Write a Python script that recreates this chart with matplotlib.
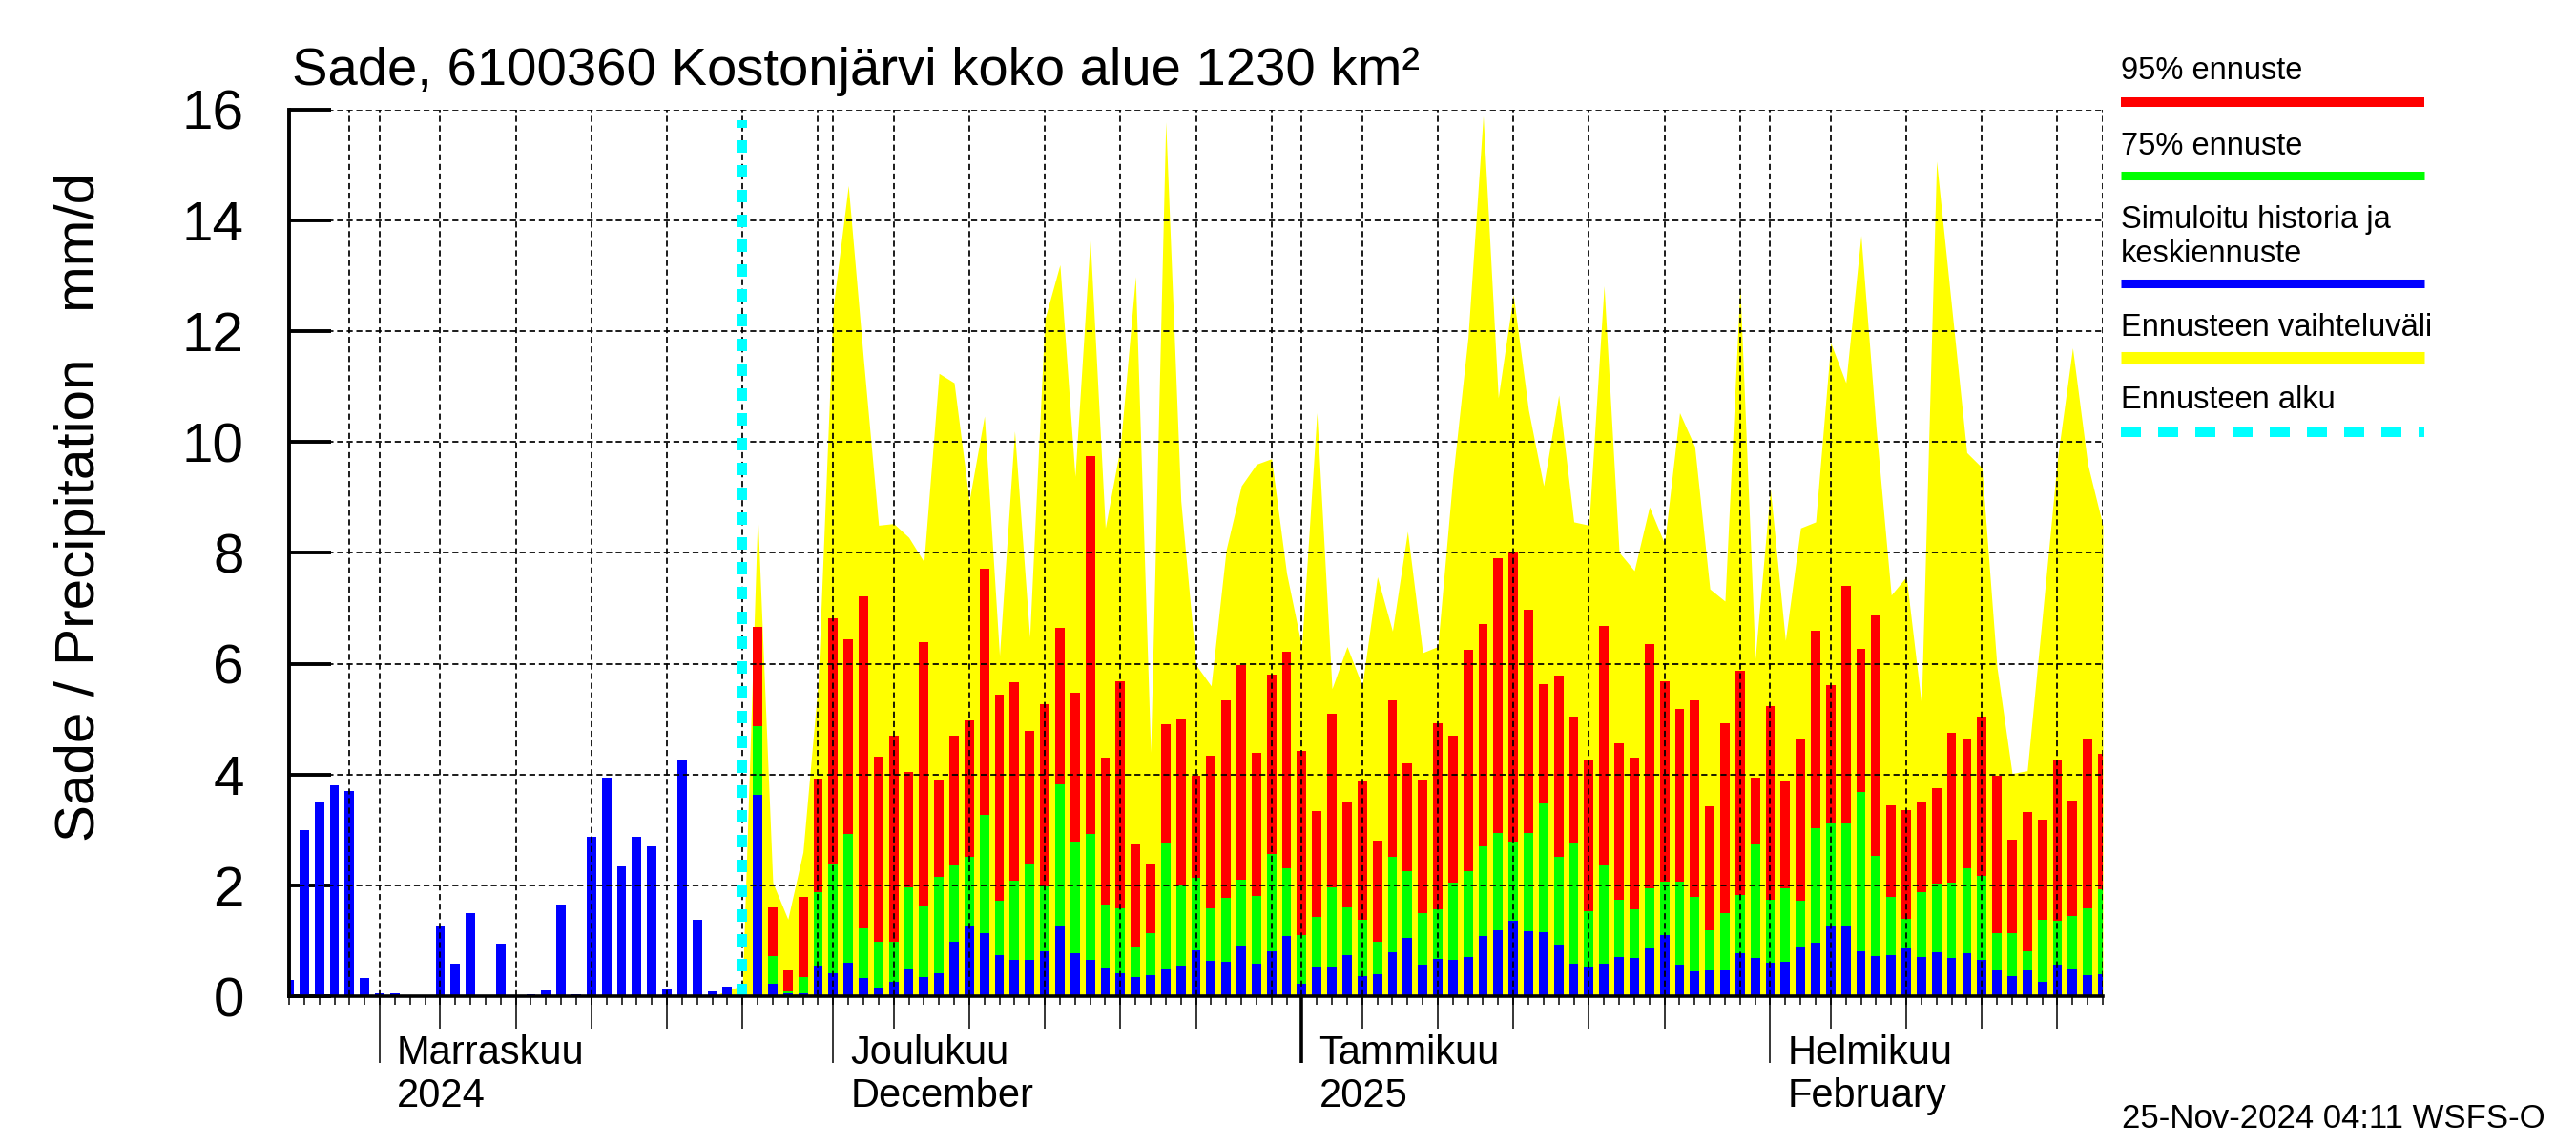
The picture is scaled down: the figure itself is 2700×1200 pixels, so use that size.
import matplotlib
matplotlib.use('Agg')
import matplotlib.pyplot as plt
import matplotlib.dates as mdates
from matplotlib.lines import Line2D
import datetime as dt

plt.rcParams['font.family'] = ['Liberation Sans', 'DejaVu Sans']

# ---------------- data ----------------
title = "Sade, 6100360 Kostonjärvi koko alue 1230 km²"
ylabel = "Sade / Precipitation   mm/d"
footer = "25-Nov-2024 04:11 WSFS-O"

hist_start = dt.date(2024, 10, 26)
hist_values = [0.29, 2.99, 3.51, 3.80, 3.70, 0.32,
               0.05, 0.05, 0.0, 0.0, 1.26, 0.59, 1.50, 0.0, 0.94, 0.0,
               0.03, 0.10, 1.66, 0.03, 2.87, 3.95, 2.34, 2.87, 2.70, 0.13,
               4.25, 1.38, 0.08, 0.18, 0.06]

fc_start = dt.date(2024, 11, 26)
fc_blue = [3.64, 0.22, 0.05, 0.05, 0.55,
           0.42, 0.61, 0.32, 0.16, 0.26, 0.48, 0.35, 0.42, 0.98, 1.25, 1.14, 0.74, 0.66,
           0.65, 0.81, 1.25, 0.78, 0.65, 0.50, 0.42, 0.34, 0.38, 0.48, 0.55, 0.83, 0.63,
           0.62, 0.92, 0.59, 0.81, 1.09,
           0.22, 0.53, 0.53, 0.74, 0.37, 0.40, 0.80, 1.05, 0.56, 0.68, 0.66, 0.71, 1.09,
           1.19, 1.36, 1.17, 1.16, 0.93, 0.59, 0.54, 0.59, 0.71, 0.69, 0.86, 1.11,
           0.57, 0.44, 0.46, 0.46, 0.78, 0.69,
           0.61, 0.62, 0.89, 0.97, 1.28, 1.25, 0.81, 0.73, 0.74, 0.86, 0.71, 0.80, 0.69,
           0.78, 0.65, 0.46, 0.37, 0.46, 0.26, 0.56, 0.49, 0.38, 0.40]
fc_green = [4.88, 0.72, 0.08, 0.35, 1.88,
            2.40, 2.93, 1.23, 0.98, 0.98, 1.97, 1.62, 2.16, 2.36, 2.52, 3.28, 1.73, 2.08,
            2.40, 1.98, 3.83, 2.79, 2.93, 1.66, 1.59, 0.88, 1.14, 2.76, 2.01, 2.14, 1.59,
            1.77, 2.10, 1.81, 2.56, 2.31,
            1.11, 1.43, 1.96, 1.61, 1.37, 0.98, 2.52, 2.26, 1.49, 1.56, 2.05, 2.25, 2.71,
            2.95, 2.79, 2.94, 3.47, 2.52, 2.77, 1.53, 2.36, 1.74, 1.56, 1.95, 2.07,
            2.07, 1.79, 1.19, 1.50, 1.83, 2.74,
            1.74, 1.95, 1.73, 3.03, 3.12, 3.12, 3.69, 2.53, 1.79, 1.40, 1.88, 2.04, 2.05,
            2.31, 2.17, 1.13, 1.13, 0.81, 1.38, 1.36, 1.44, 1.59, 1.93]
fc_red = [6.66, 1.61, 0.46, 1.79, 3.92,
          6.82, 6.44, 7.21, 4.33, 4.70, 4.04, 6.39, 3.91, 4.70, 4.98, 7.71, 5.45, 5.67,
          4.79, 5.27, 6.65, 5.48, 9.74, 4.30, 5.69, 2.74, 2.40, 4.91, 5.00, 3.98, 4.34,
          5.33, 5.98, 4.39, 5.81, 6.21,
          4.42, 3.34, 5.10, 3.51, 3.88, 2.80, 5.34, 4.21, 3.91, 4.93, 4.70, 6.25, 6.72,
          7.90, 8.02, 6.97, 5.63, 5.79, 5.05, 4.25, 6.68, 4.57, 4.31, 6.36, 5.68,
          5.18, 5.34, 3.42, 4.93, 5.88, 3.95,
          5.24, 3.87, 4.63, 6.60, 5.61, 7.41, 6.27, 6.87, 3.44, 3.36, 3.49, 3.76, 4.76,
          4.63, 5.05, 3.97, 2.83, 3.32, 3.19, 4.27, 3.53, 4.63, 4.37]

range_start = dt.date(2024, 11, 23)
range_max = [0.0, 0.1, 0.2,
             8.70, 2.05, 1.39, 2.60, 5.66,
             12.44, 14.63, 11.5, 8.50, 8.53, 8.28, 7.84, 11.24, 11.07, 8.94, 10.47, 6.15,
             10.2, 6.48, 12.22, 13.2, 9.38, 13.67, 8.45, 9.92, 12.99, 4.40, 15.78, 8.94,
             5.98, 5.60,
             8.06, 9.21, 9.60, 9.70, 7.63,
             6.31, 10.53, 5.55, 6.31, 5.60, 7.57, 6.59, 8.39, 6.20, 6.31, 9.38, 11.89,
             15.89, 10.80, 12.66, 10.58, 9.21, 10.85, 8.56, 8.50, 12.82, 8.01, 7.68,
             8.83, 8.17,
             10.53, 9.92, 7.35, 7.13, 12.82, 6.09,
             9.16, 6.42, 8.45, 8.56, 11.79, 11.07, 13.73, 10.25, 7.24, 7.57, 5.27, 15.07,
             12.44, 9.81, 9.54, 5.93, 4.02, 4.07, 6.86, 9.70, 11.70, 9.60, 8.50]

forecast_begin = dt.date(2024, 11, 25)
x_start = dt.date(2024, 10, 26)
x_end = dt.date(2025, 2, 23)

month_labels = [(dt.date(2024, 11, 1), "Marraskuu", "2024"),
                (dt.date(2024, 12, 1), "Joulukuu", "December"),
                (dt.date(2025, 1, 1), "Tammikuu", "2025"),
                (dt.date(2025, 2, 1), "Helmikuu", "February")]

legend_labels = ["95% ennuste", "75% ennuste", "Simuloitu historia ja\nkeskiennuste",
                 "Ennusteen vaihteluväli", "Ennusteen alku"]
yticks = [0, 2, 4, 6, 8, 10, 12, 14, 16]

RED, GREEN, BLUE, YELLOW, CYAN = '#ff0000', '#00ff00', '#0000ff', '#ffff00', '#00ffff'


def day_nums(start, n):
    return [mdates.date2num(start + dt.timedelta(days=i)) for i in range(n)]


# ---------------- figure ----------------
W, H = 2700, 1200
fig = plt.figure(figsize=(27, 12), dpi=100)
ax = fig.add_axes([303 / W, 0.130, (2204 - 303) / W, 0.7743])

x_hist = day_nums(hist_start, len(hist_values))
x_fc = day_nums(fc_start, len(fc_blue))
x_rng = day_nums(range_start, len(range_max))

bw = 0.62
ax.fill_between(x_rng, 0, range_max, color=YELLOW, linewidth=0, zorder=1)
ax.bar(x_fc, fc_red, width=bw, color=RED, linewidth=0, zorder=2)
ax.bar(x_fc, fc_green, width=bw, color=GREEN, linewidth=0, zorder=3)
ax.bar(x_fc, fc_blue, width=bw, color=BLUE, linewidth=0, zorder=4)
ax.bar(x_hist, hist_values, width=bw, color=BLUE, linewidth=0, zorder=4)

x0, x1 = mdates.date2num(x_start), mdates.date2num(x_end)
ax.set_xlim(x0, x1)
ax.set_ylim(0, 16)

# grid
dash = (0, (3.6, 2.2))
glw = 1.25
for yv in yticks[1:]:
    ax.axhline(yv, color='black', lw=glw, ls=dash, zorder=5)
d = x_start
while d <= x_end:
    if d.day in (1, 5, 10, 15, 20, 25, 30):
        ax.axvline(mdates.date2num(d), color='black', lw=glw, ls=dash, zorder=5)
    d += dt.timedelta(days=1)
ax.axvline(x1, color='black', lw=glw, ls=dash, zorder=5)

# forecast start
fb = mdates.date2num(forecast_begin)
ax.vlines(fb, 0, 15.8, colors=CYAN, lw=7.2, linestyles=(0, (1.3, 1.3)), zorder=6)

# spines
for s in ('top', 'right'):
    ax.spines[s].set_visible(False)
ax.spines['left'].set_linewidth(2.8)
ax.spines['bottom'].set_linewidth(2.6)
ax.spines['left'].set_zorder(7)
ax.spines['bottom'].set_zorder(7)

# y ticks
ax.set_yticks(yticks)
ax.tick_params(axis='y', direction='in', length=32, width=2.8, pad=34, labelsize=42)

# x ticks: daily minor, manual longer ones
ax.set_xticks([])
ax.set_xticks(day_nums(x_start, int(x1 - x0) + 1), minor=True)
ax.tick_params(axis='x', which='minor', direction='out', length=6.5, width=1.1)
axh_px = 0.7743 * H
trans = ax.get_xaxis_transform()
d = x_start
while d <= x_end:
    xn = mdates.date2num(d)
    if d.day == 1:
        lw = 2.6 if d.month == 1 else 1.1
        ax.plot([xn, xn], [0, -70 / axh_px], color='black', lw=lw, transform=trans,
                clip_on=False, zorder=8, solid_capstyle='butt')
    elif d.day in (5, 10, 15, 20, 25):
        ax.plot([xn, xn], [0, -34 / axh_px], color='black', lw=1.1, transform=trans,
                clip_on=False, zorder=8, solid_capstyle='butt')
    d += dt.timedelta(days=1)

for md, l1, l2 in month_labels:
    xn = mdates.date2num(md)
    ax.annotate(l1, xy=(xn, 0), xycoords=trans, xytext=(13, -(1118 - 1047) * 0.72),
                textcoords='offset points', ha='left', va='baseline', fontsize=30)
    ax.annotate(l2, xy=(xn, 0), xycoords=trans, xytext=(13, -(1163 - 1047) * 0.72),
                textcoords='offset points', ha='left', va='baseline', fontsize=30)

# texts
fig.text(306 / W, 1 - 89 / H, title, fontsize=40.5, ha='left', va='baseline')
fig.text(84 / W, 1 - 531 / H, ylabel, fontsize=42, rotation=90, ha='center', va='center')
fig.text(2224 / W, 1 - 1182 / H, footer, fontsize=25, ha='left', va='baseline')

# legend
lx0, lx1 = 2223 / W, 2541 / W
fs = 23.5
fig.text(lx0, 1 - 83 / H, legend_labels[0], fontsize=fs, ha='left', va='baseline')
fig.add_artist(Line2D([lx0, lx1], [1 - 107 / H] * 2, color=RED, lw=7.2, solid_capstyle='butt'))
fig.text(lx0, 1 - 162 / H, legend_labels[1], fontsize=fs, ha='left', va='baseline')
fig.add_artist(Line2D([lx0, lx1], [1 - 184 / H] * 2, color=GREEN, lw=6.5, solid_capstyle='butt'))
l3a, l3b = legend_labels[2].split('\n')
fig.text(lx0, 1 - 239 / H, l3a, fontsize=fs, ha='left', va='baseline')
fig.text(lx0, 1 - 275 / H, l3b, fontsize=fs, ha='left', va='baseline')
fig.add_artist(Line2D([lx0, lx1], [1 - 297 / H] * 2, color=BLUE, lw=6.5, solid_capstyle='butt'))
fig.text(lx0, 1 - 352 / H, legend_labels[3], fontsize=fs, ha='left', va='baseline')
fig.add_artist(Line2D([lx0, lx1], [1 - 375 / H] * 2, color=YELLOW, lw=9.4, solid_capstyle='butt'))
fig.text(lx0, 1 - 428 / H, legend_labels[4], fontsize=fs, ha='left', va='baseline')
fig.add_artist(Line2D([lx0, lx1], [1 - 453 / H] * 2, color=CYAN, lw=7.2,
                      ls=(0, (2.1, 1.8)), dash_capstyle='butt'))

fig.savefig('out.png', dpi=100)
